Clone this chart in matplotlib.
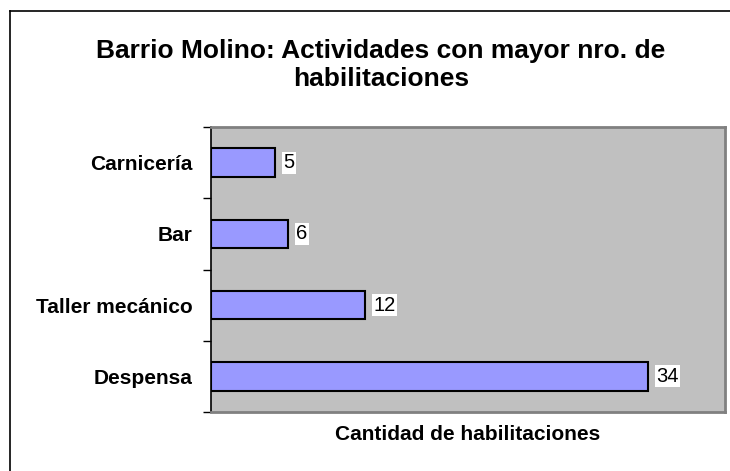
import matplotlib.pyplot as plt
from matplotlib.lines import Line2D

categorias = ['Despensa', 'Taller mecánico', 'Bar', 'Carnicería']
cantidades = [34, 12, 6, 5]

plt.rcParams['font.family'] = ['Liberation Sans', 'DejaVu Sans']

fig = plt.figure(figsize=(7.3, 4.71), dpi=100)
# marco exterior (solo se ven el borde izquierdo y el superior)
x0, y0 = 9.5 / 730, 1 - 10.5 / 471
fig.lines.append(Line2D([x0, x0], [0, y0], transform=fig.transFigure,
                        color='black', linewidth=1.2))
fig.lines.append(Line2D([x0, 1], [y0, y0], transform=fig.transFigure,
                        color='black', linewidth=1.2))

ax = fig.add_axes([211 / 730, 1 - 412 / 471, (725 - 211) / 730, (412 - 127) / 471])
ax.set_facecolor('#C0C0C0')

pos = range(len(categorias))
barras = ax.barh(pos, cantidades, height=0.4, color='#9999FF',
                 edgecolor='black', linewidth=1.5)
for b, v in zip(barras, cantidades):
    ax.text(b.get_width() + 0.65, b.get_y() + b.get_height() / 2, str(v),
            va='center', ha='left', fontsize=14.5,
            bbox=dict(facecolor='white', edgecolor='none', pad=1))

ax.set_xlim(0, 40)
ax.set_ylim(-0.5, len(categorias) - 0.5)
ax.set_xticks([])
ax.set_yticks([i - 0.5 for i in range(len(categorias) + 1)], minor=False)
ax.set_yticklabels([])
ax.set_yticks(list(pos), minor=True)
ax.set_yticklabels(categorias, minor=True, fontsize=15, fontweight='bold')
ax.tick_params(axis='y', which='minor', length=0, pad=13)
ax.tick_params(axis='y', which='major', length=6, width=1, color='black')

for s in ['top', 'right', 'bottom']:
    ax.spines[s].set_color('#808080')
    ax.spines[s].set_linewidth(2)
ax.spines['left'].set_color('black')
ax.spines['left'].set_linewidth(1.2)

ax.set_xlabel('Cantidad de habilitaciones', fontsize=15, fontweight='bold',
              labelpad=9)

fig.text(0.522, 1 - 65 / 471, 'Barrio Molino: Actividades con mayor nro. de\nhabilitaciones',
         ha='center', va='center', fontsize=19, fontweight='bold', linespacing=1.2)

fig.savefig('out.png', dpi=100)
